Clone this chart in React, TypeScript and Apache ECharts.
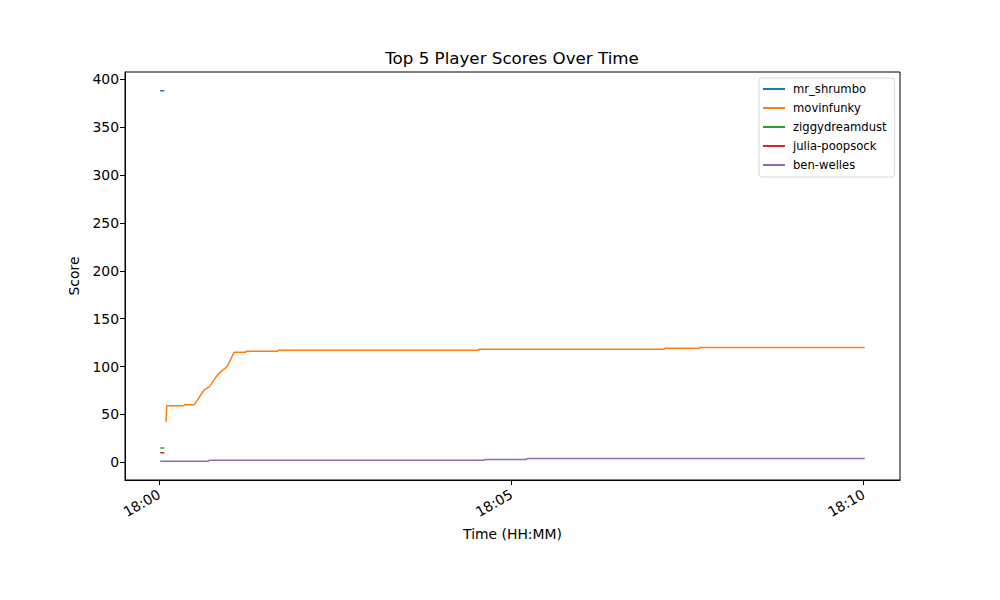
import React, { useEffect, useRef } from "react";
import * as echarts from "echarts";

// time in seconds after 18:00:00
const seriesNames = ["mr_shrumbo", "movinfunky", "ziggydreamdust", "julia-poopsock", "ben-welles"];
const colors = ["#1f77b4", "#ff7f0e", "#2ca02c", "#d62728", "#9467bd"];

const mrShrumbo: [number, number][] = [[1, 388], [4.5, 388]];
const movinfunky: [number, number][] = [
  [6, 42], [6.5, 59], [21, 59], [21.5, 60], [30, 60], [38, 75], [43, 79], [49, 90], [53, 95],
  [58, 100], [64, 115], [74, 115], [74.5, 116], [101, 116], [101.5, 117], [272, 117], [272.5, 118],
  [430, 118], [430.5, 119], [460, 119], [460.5, 120], [601, 120],
];
const ziggydreamdust: [number, number][] = [[1, 15], [4.5, 15]];
const juliaPoopsock: [number, number][] = [[1, 10], [4.5, 10]];
const benWelles: [number, number][] = [
  [1, 1], [42, 1], [42.5, 2], [277, 2], [277.5, 3], [313, 3], [313.5, 4], [601, 4],
];

const xTicks = [0, 300, 600];
const yTicks = [0, 50, 100, 150, 200, 250, 300, 350, 400];

const fmtTime = (v: number) => {
  const m = Math.round(v / 60);
  const mm = String(m % 60).padStart(2, "0");
  const hh = 18 + Math.floor(m / 60);
  return `${hh}:${mm}`;
};

const FONT = "DejaVu Sans";

export default function App() {
  const ref = useRef<HTMLDivElement>(null);
  useEffect(() => {
    if (!ref.current) return;
    const chart = echarts.init(ref.current, undefined, { renderer: "svg" });
    const allData = [mrShrumbo, movinfunky, ziggydreamdust, juliaPoopsock, benWelles];
    chart.setOption({
      animation: false,
      backgroundColor: "#ffffff",
      textStyle: { fontFamily: FONT },
      title: {
        text: "Top 5 Player Scores Over Time",
        left: 507,
        textAlign: "center",
        top: 44,
        textStyle: { fontFamily: FONT, fontSize: 16.7, fontWeight: "normal", color: "#000" },
      },
      legend: {
        orient: "vertical",
        top: 78,
        left: 759,
        width: 135,
        itemWidth: 22,
        itemHeight: 2,
        itemGap: 7,
        icon: "rect",
        padding: [5, 8, 6, 4],
        borderColor: "#d6d6d6",
        borderWidth: 1,
        borderRadius: 3,
        backgroundColor: "rgba(255,255,255,0.8)",
        textStyle: { fontFamily: FONT, fontSize: 11.6, color: "#000", padding: [0, 0, 0, 3] },
        data: seriesNames,
      },
      grid: {
        left: 125,
        right: 100,
        top: 72,
        bottom: 120,
        show: true,
        borderColor: "#000",
        borderWidth: 1,
        backgroundColor: "transparent",
      },
      xAxis: {
        type: "value",
        min: -29,
        max: 631,
        name: "Time (HH:MM)",
        nameLocation: "middle",
        nameGap: 47,
        nameTextStyle: { fontFamily: FONT, fontSize: 13.9, color: "#000" },
        axisLine: { show: true, onZero: false, lineStyle: { color: "#000", width: 1 } },
        axisTick: { show: true, length: 5, lineStyle: { color: "#000" }, customValues: xTicks },
        axisLabel: {
          customValues: xTicks,
          rotate: 30,
          margin: 13,
          fontFamily: FONT,
          fontSize: 13.9,
          color: "#000",
          formatter: (v: number) => fmtTime(v),
        },
        splitLine: { show: false },
      },
      yAxis: {
        type: "value",
        min: -18.5,
        max: 407.6,
        name: "Score",
        nameLocation: "middle",
        nameGap: 44,
        nameTextStyle: { fontFamily: FONT, fontSize: 13.9, color: "#000" },
        axisLine: { show: true, onZero: false, lineStyle: { color: "#000", width: 1 } },
        axisTick: { show: true, length: 5, lineStyle: { color: "#000" }, customValues: yTicks },
        axisLabel: {
          customValues: yTicks,
          margin: 6,
          fontFamily: FONT,
          fontSize: 13.9,
          color: "#000",
        },
        splitLine: { show: false },
      },
      series: seriesNames.map((n, i) => ({
        name: n,
        type: "line",
        data: allData[i],
        showSymbol: false,
        symbol: "none",
        color: colors[i],
        lineStyle: { width: 1.5, color: colors[i] },
        emphasis: { disabled: true },
      })),
    });
    return () => chart.dispose();
  }, []);
  return (
    <div
      ref={ref}
      style={{ position: "fixed", left: 0, top: 0, width: 1000, height: 600 }}
    />
  );
}
